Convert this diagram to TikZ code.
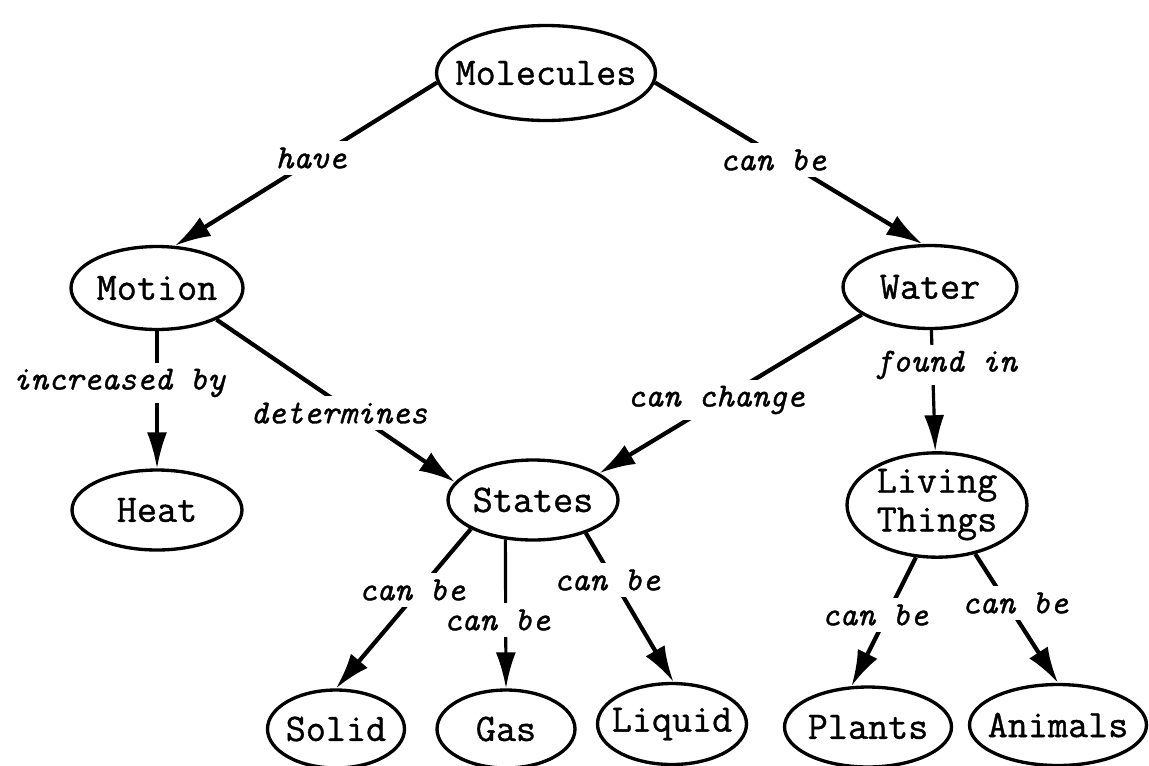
\documentclass[tikz,border=0pt]{standalone}
\usepackage{fontspec}
\setmonofont{Latin Modern Mono}[FakeBold=1]
\usetikzlibrary{arrows.meta,shapes.geometric}

\newcommand{\cword}[1]{\makebox[0pt]{#1}}

\tikzset{
  concept/.style={ellipse,draw,line width=1.9pt,inner sep=0pt,font=\ttfamily\fontsize{22.2}{20}\selectfont},
  linkword/.style={fill=white,inner sep=3.5pt,font=\ttfamily\itshape\fontsize{19.2}{19}\selectfont},
  link/.style={line width=2.4pt,-{Latex[length=0.72cm,width=0.44cm]}},
  thinlink/.style={line width=1.8pt,-{Latex[length=0.72cm,width=0.4cm]}}
}

\begin{document}
\begin{tikzpicture}[x=0.02cm,y=-0.02cm]
    \useasboundingbox (0,0) rectangle (1149,765);

    \node[concept,minimum width=4.38cm,minimum height=1.9cm] (molecules) at (546,73) {\cword{Molecules}};

    \node[concept,minimum width=3.44cm,minimum height=1.66cm] (motion) at (157,288) {\cword{Motion}};
    \node[concept,minimum width=3.48cm,minimum height=1.66cm] (water) at (930,287) {\cword{Water}};

    \node[concept,minimum width=3.4cm,minimum height=1.6cm] (heat) at (157,510) {\cword{Heat}};
    \node[concept,minimum width=3.4cm,minimum height=1.6cm] (states) at (533,500) {\cword{States}};
    \node[concept,minimum width=3.6cm,minimum height=2.04cm] (living) at (937,505) {\cword{\begin{tabular}{@{}c@{}}Living\\[2pt]Things\end{tabular}}};

    \node[concept,minimum width=2.74cm,minimum height=1.56cm] (solid) at (336,729) {\cword{Solid}};
    \node[concept,minimum width=2.76cm,minimum height=1.56cm] (gas) at (506,729) {\cword{Gas}};
    \node[concept,minimum width=2.98cm,minimum height=1.62cm] (liquid) at (672,724) {\cword{Liquid}};
    \node[concept,minimum width=3.34cm,minimum height=1.6cm] (plants) at (868,727) {\cword{Plants}};
    \node[concept,minimum width=3.54cm,minimum height=1.62cm] (animals) at (1058,725) {\cword{Animals}};

    \foreach \from/\to in {molecules.185/motion.67,molecules.-5/water.100,motion.-28/states.167,water.202/states.22,states.205/solid.north,states.-32/liquid.88,living.-112/plants.112,living.-52/animals.north}
    \draw[link] (\from)--(\to);

    \foreach \from/\to in {motion.south/heat.north,states.-125/gas.north,water/living}
    \draw[thinlink] (\from)--(\to);

    % label
    \node[linkword] (have) at (311,158) {have};
    \node[linkword] (canbewater) at (773,160) {can be};
    \node[linkword] (increased) at (119,383) {increased by};
    \node[linkword] (determines) at (339,413) {determines};
    \node[linkword] (canchange) at (716,400) {can change};
    \node[linkword] (foundin) at (946,365) {found in};

    % label
    \node[linkword] (canbesolid) at (412,590) {can be};
    \node[linkword] (canbegas) at (497,620) {can be};
    \node[linkword] (canbeliquid) at (607,580) {can be};
    \node[linkword] (canbeplants) at (875,615) {can be};
    \node[linkword] (canbeanimals) at (1015,603) {can be};
\end{tikzpicture}
\end{document}
